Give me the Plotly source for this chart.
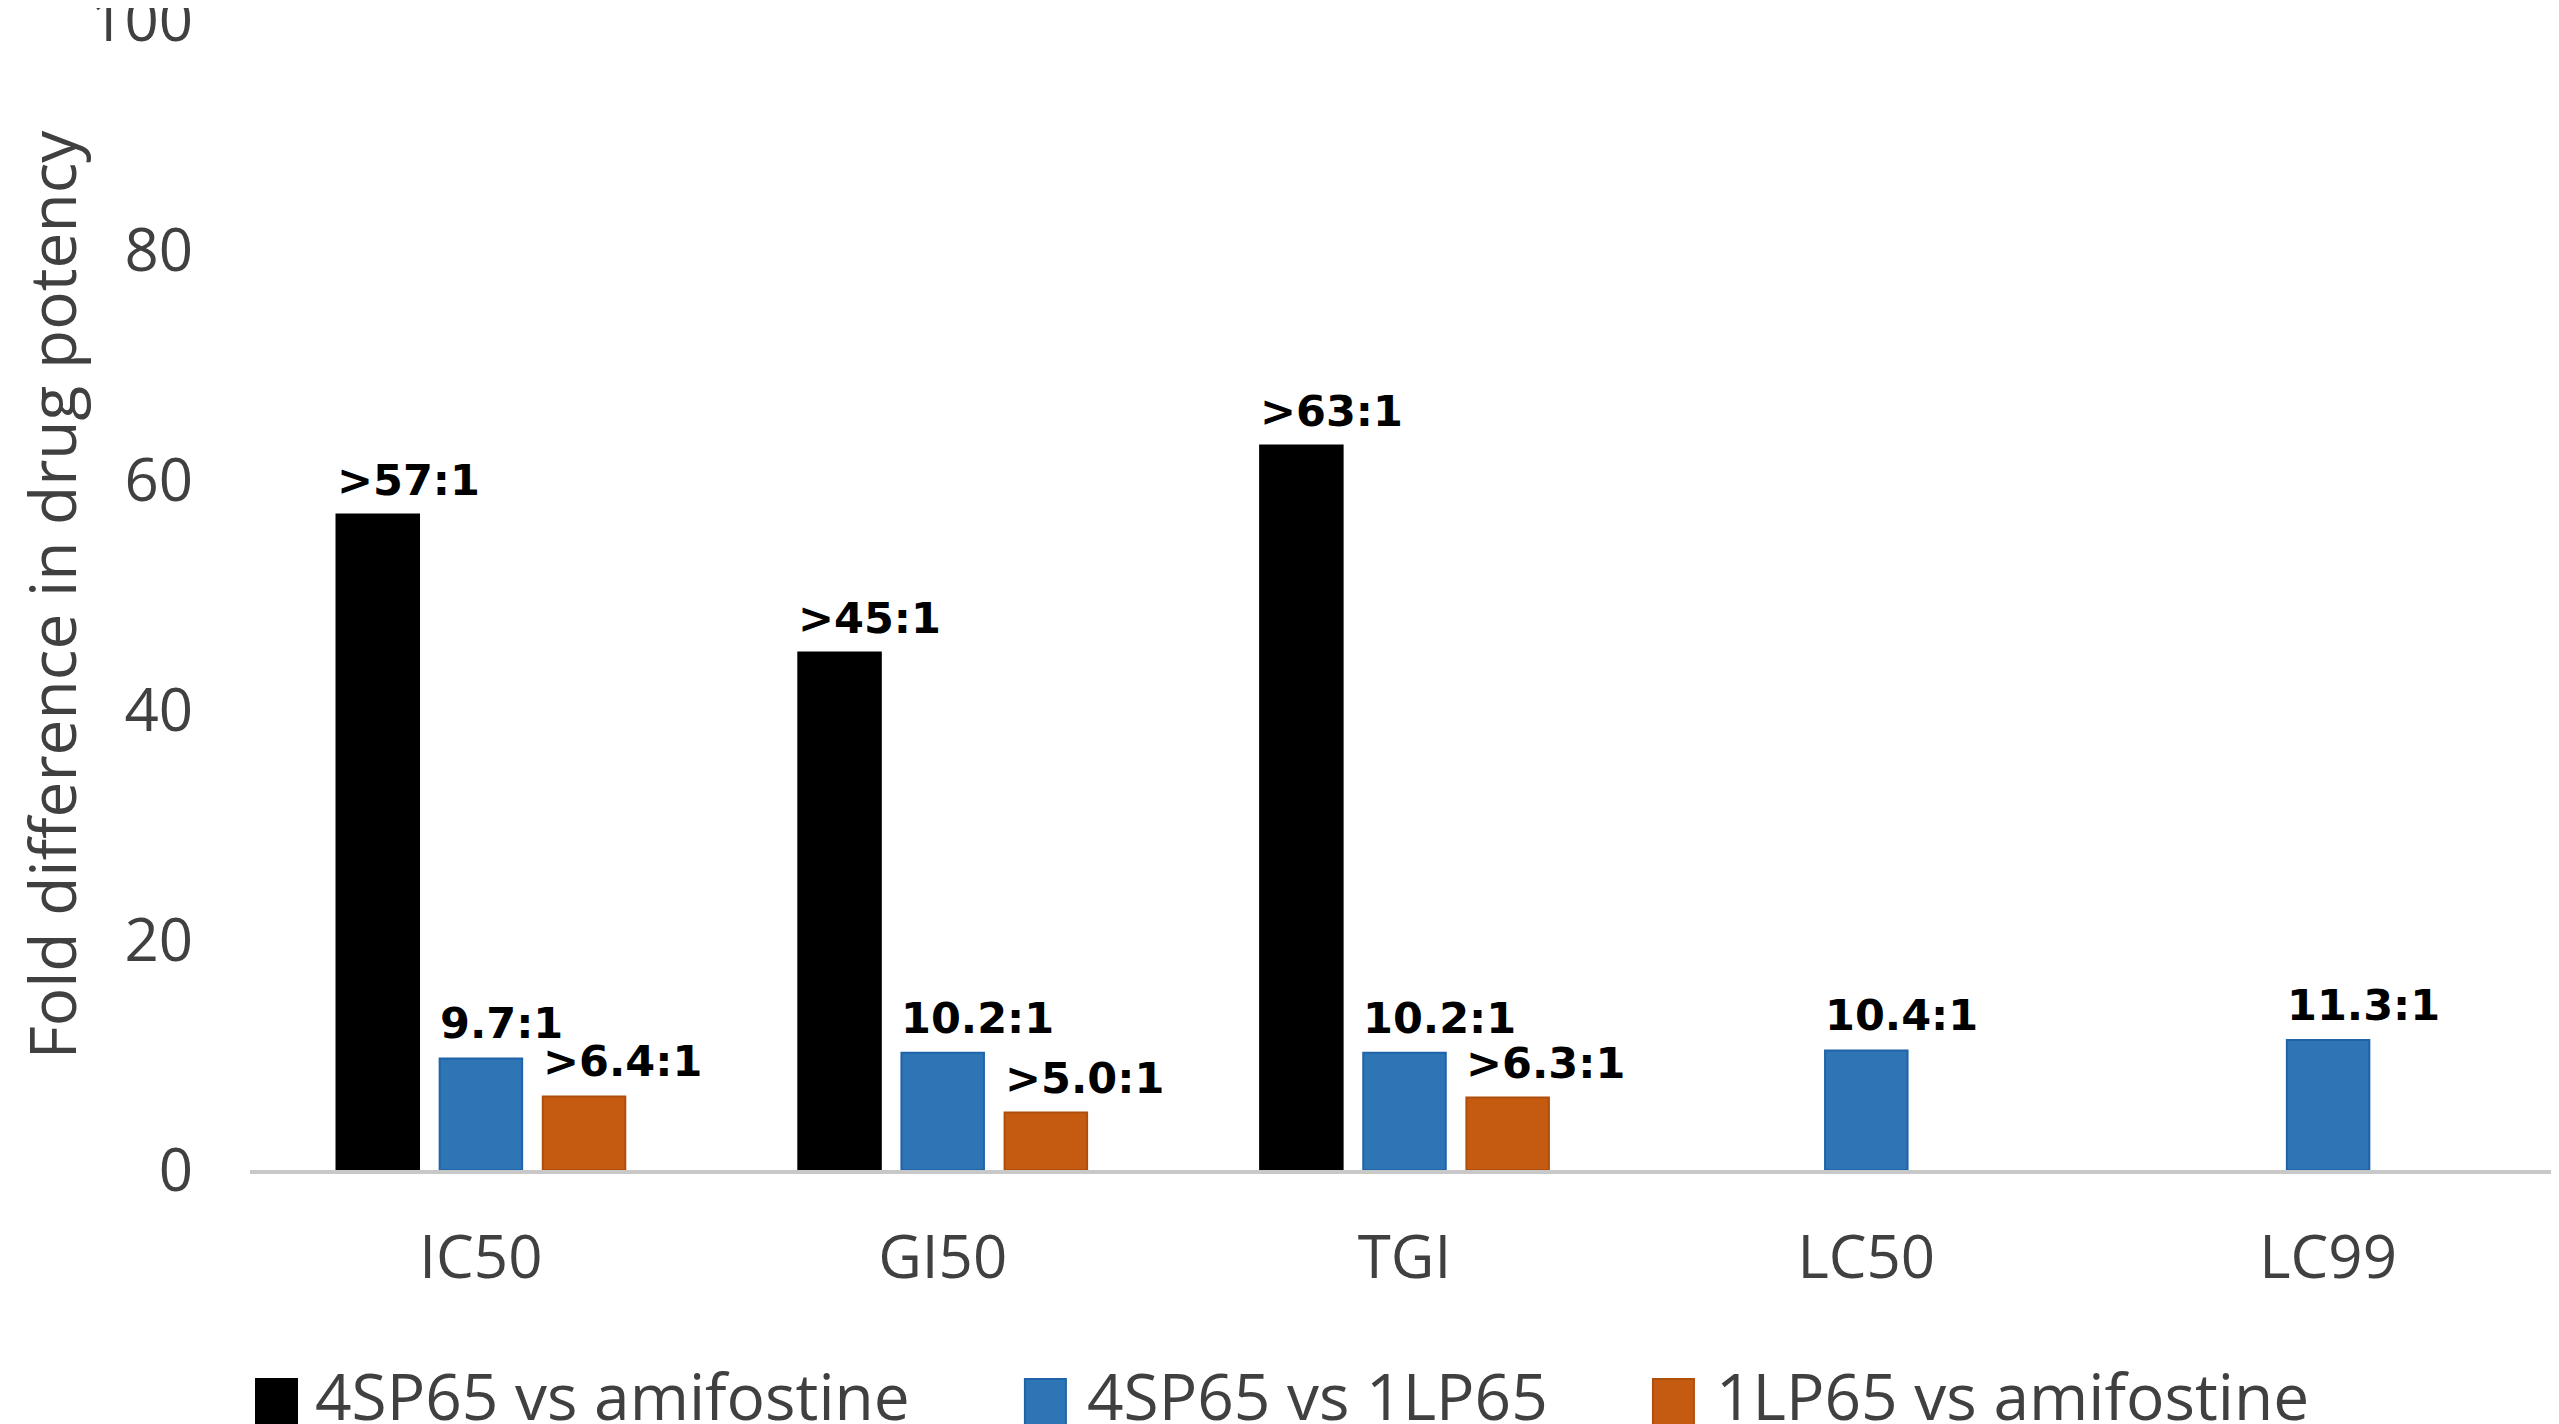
import plotly.graph_objects as go

categories = ["IC50", "GI50", "TGI", "LC50", "LC99"]

sp_vs_amif = [57, 45, 63, None, None]
sp_vs_amif_txt = [">57:1", ">45:1", ">63:1", "", ""]

sp_vs_lp = [9.7, 10.2, 10.2, 10.4, 11.3]
sp_vs_lp_txt = ["9.7:1", "10.2:1", "10.2:1", "10.4:1", "11.3:1"]

lp_vs_amif = [6.4, 5.0, 6.3, None, None]
lp_vs_amif_txt = [">6.4:1", ">5.0:1", ">6.3:1", "", ""]

series = [
    ("4SP65 vs amifostine", sp_vs_amif, sp_vs_amif_txt, "#000000", "#000000"),
    ("4SP65 vs 1LP65", sp_vs_lp, sp_vs_lp_txt, "#2E75B6", "#1f63a8"),
    ("1LP65 vs amifostine", lp_vs_amif, lp_vs_amif_txt, "#C55A11", "#b04e0c"),
]

W, H = 2551, 1416
ML, MR, MT, MB = 242, 0, 12, 254
BARGAP, GROUPGAP = 0.33, 0.2

# pixel geometry of the grouped bars, used to left-align labels like Excel does
cat_px = (W - ML - MR) / len(categories)
slot_px = cat_px * (1 - BARGAP) / len(series)
bar_px = slot_px * (1 - GROUPGAP)

# legend drawn by hand (plotly caps bar legend swatches at ~16px)
legend_pos = [(0.0026, 0.0273), (0.3356, 0.3616), (0.6076, 0.634)]

fig = go.Figure()
for i, (name, vals, txt, col, edge) in enumerate(series):
    fig.add_trace(go.Bar(
        x=categories,
        y=vals,
        name=name,
        showlegend=False,
        marker=dict(color=col, line=dict(color=edge, width=2)),
    ))
    shift = (i - 1) * slot_px - bar_px / 2
    for c, v, t in zip(categories, vals, txt):
        if v is None:
            continue
        fig.add_annotation(
            x=c, y=v, text=t, showarrow=False,
            xanchor="left", yanchor="bottom", xshift=shift - 2, yshift=8,
            font=dict(family="DejaVu Sans", size=43, color="#000000", weight="bold"),
        )

for (name, _, _, col, edge), (xs, xt) in zip(series, legend_pos):
    fig.add_shape(
        type="rect", xref="paper", yref="paper",
        xsizemode="pixel", ysizemode="pixel",
        xanchor=xs, yanchor=-0.1817,
        x0=0, x1=41, y0=0, y1=-52,
        fillcolor=col, line=dict(color=edge, width=2),
    )
    fig.add_annotation(
        text=name, xref="paper", yref="paper", x=xt, y=-0.1965,
        xanchor="left", yanchor="middle", showarrow=False,
        font=dict(family="Open Sans", size=64, color="#404040"),
    )

fig.update_layout(
    width=W,
    height=H,
    barmode="group",
    bargap=BARGAP,
    bargroupgap=GROUPGAP,
    plot_bgcolor="white",
    paper_bgcolor="white",
    font=dict(family="Open Sans", color="#404040"),
    margin=dict(l=ML, r=MR, t=MT, b=MB, autoexpand=False),
    xaxis=dict(
        showline=True, linecolor="#c8c8c8", linewidth=4,
        tickfont=dict(size=60, color="#404040"),
        ticks="", ticklabelstandoff=32,
    ),
    yaxis=dict(
        range=[0, 100], dtick=20, showgrid=False, zeroline=False, showline=False,
        tickfont=dict(size=60, color="#404040"),
        ticklabelstandoff=56, ticklabeloverflow="allow",
        title=dict(text="Fold difference in drug potency", font=dict(size=64, color="#404040"), standoff=12),
    ),
)

fig.write_html("out.html")
